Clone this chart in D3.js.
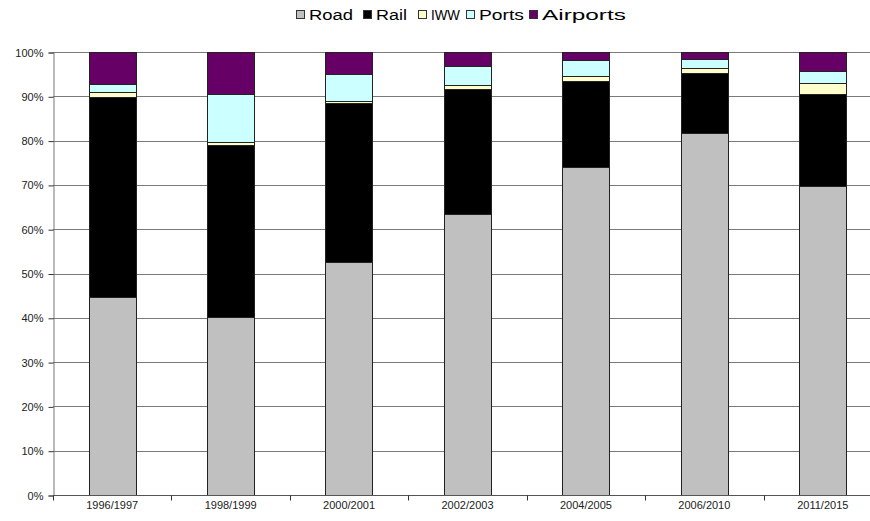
<!DOCTYPE html>
<html>
<head>
<meta charset="utf-8">
<script src="https://cdn.jsdelivr.net/npm/d3@7"></script>
<style>
  html, body { margin: 0; padding: 0; background: #fff; }
  svg { display: block; }
  text { font-family: "Liberation Sans", Arial, sans-serif; }
</style>
</head>
<body>
<svg id="chart" width="870" height="521"></svg>
<script>
const categories = ["1996/1997","1998/1999","2000/2001","2002/2003","2004/2005","2006/2010","2011/2015"];
const seriesNames = ["Road","Rail","IWW","Ports","Airports"];
const road     = [44.7, 40.1, 52.6, 63.4, 74.1, 81.8, 69.8];
const rail     = [45.1, 39.0, 35.9, 28.2, 19.3, 13.5, 20.8];
const iww      = [1.2, 0.6, 0.5, 1.0, 1.2, 1.1, 2.5];
const ports    = [1.8, 10.8, 6.1, 4.2, 3.5, 2.1, 2.7];
const airports = [7.2, 9.5, 4.9, 3.2, 1.9, 1.5, 4.2];
const yTicks = [0,0.1,0.2,0.3,0.4,0.5,0.6,0.7,0.8,0.9,1.0];
const colors = ["#C0C0C0","#000000","#FFFFCC","#CCFFFF","#660066"];

const seriesValues = [road, rail, iww, ports, airports];
const rows = categories.map((c, i) => {
  const r = {category: c};
  seriesNames.forEach((s, k) => r[s] = seriesValues[k][i]);
  return r;
});

const svg = d3.select("#chart");
const plot = {left: 53, right: 882, top: 52, bottom: 495};

const x = d3.scaleBand().domain(categories).range([plot.left, plot.right])
  .paddingInner(0.6).paddingOuter(0.3);
const y = d3.scaleLinear().domain([0, 1]).range([plot.bottom, plot.top]);
const color = d3.scaleOrdinal().domain(seriesNames).range(colors);

const stack = d3.stack().keys(seriesNames).offset(d3.stackOffsetExpand);
const stacked = stack(rows);

// gridlines
svg.append("g").selectAll("line").data(yTicks).join("line")
  .attr("x1", plot.left).attr("x2", plot.right)
  .attr("y1", d => Math.round(y(d)) + 0.5).attr("y2", d => Math.round(y(d)) + 0.5)
  .attr("stroke", "#7a7a7a").attr("stroke-width", 1);

// bars
svg.append("g").selectAll("g").data(stacked).join("g")
  .attr("fill", d => color(d.key))
  .selectAll("rect").data(d => d).join("rect")
  .attr("x", d => Math.round(x(d.data.category)) + 0.5)
  .attr("width", Math.round(x.bandwidth()))
  .attr("y", d => Math.round(y(d[1])) + 0.5)
  .attr("height", d => Math.max(0, Math.round(y(d[0])) - Math.round(y(d[1]))))
  .attr("stroke", "#222").attr("stroke-width", 1);

// y axis
const yAxis = d3.axisLeft(y).tickValues(yTicks).tickFormat(d3.format(".0%")).tickSize(5).tickPadding(5);
const gy = svg.append("g").attr("transform", `translate(${plot.left + 0.5},0.5)`).call(yAxis);
gy.select(".domain").attr("stroke", "#777");
gy.selectAll(".tick line").attr("stroke", "#333");
gy.selectAll(".tick text").attr("font-family", "Liberation Sans, Arial, sans-serif")
  .attr("font-size", 11).attr("fill", "#222");

// x axis
const xAxis = d3.axisBottom(x).tickSize(0).tickPadding(6);
const gx = svg.append("g").attr("transform", `translate(0,${plot.bottom + 0.5})`).call(xAxis);
gx.select(".domain").attr("stroke", "#555").attr("d", `M${plot.left},0H${plot.right}`);
gx.selectAll(".tick text").attr("font-family", "Liberation Sans, Arial, sans-serif")
  .attr("font-size", 11).attr("fill", "#222");
// category boundary ticks
const step = x.step();
const bounds = d3.range(categories.length + 1).map(i => plot.left + i * step);
gx.append("g").selectAll("line").data(bounds).join("line")
  .attr("x1", d => Math.round(d) + 0.5).attr("x2", d => Math.round(d) + 0.5)
  .attr("y1", 0).attr("y2", 5).attr("stroke", "#333");

// legend (item positions / text widths matched to reference layout)
const legendX = [296, 363, 418, 466, 529];
const legendTextWidth = [44, 31, 29, 45, 84];
const legend = svg.append("g");
seriesNames.forEach((s, k) => {
  const g = legend.append("g").attr("transform", `translate(${legendX[k]},0)`);
  g.append("rect").attr("x", 0.5).attr("y", 10.5).attr("width", 8).attr("height", 8)
    .attr("fill", color(s)).attr("stroke", "#333");
  const t = g.append("text").attr("x", 0).attr("y", 0)
    .attr("font-size", 15).attr("fill", "#000").text(s);
  const w = t.node().getComputedTextLength();
  const sx = legendTextWidth[k] / w;
  t.attr("transform", `translate(13,20) scale(${sx},1)`);
});
</script>
</body>
</html>
